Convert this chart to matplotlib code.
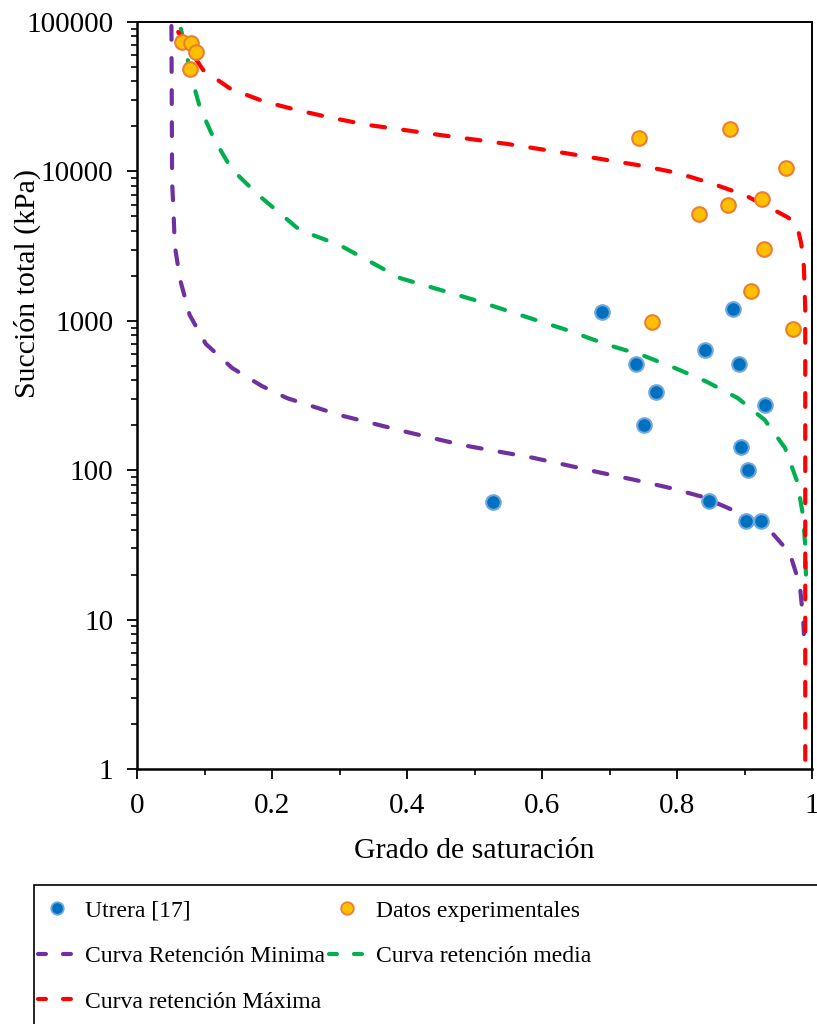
import numpy as np

# Plot and save fig without displaying it on X server
import matplotlib
matplotlib.use('Agg')
import matplotlib.pyplot as plot
from matplotlib.lines import Line2D
from matplotlib.patches import Rectangle
from matplotlib.ticker import FixedLocator, FuncFormatter, LogLocator, NullFormatter

# Utrera [17]
utrera_sr = [0.527, 0.689, 0.739, 0.769, 0.751, 0.841, 0.883, 0.892, 0.930, 0.895, 0.905, 0.847, 0.902, 0.924]
utrera_suc = [61, 1145, 514, 334, 201, 638, 1200, 514, 273, 143, 100, 62, 46, 46]

# Datos experimentales
exp_sr = [0.067, 0.080, 0.087, 0.079, 0.743, 0.879, 0.961, 0.926, 0.875, 0.832, 0.929, 0.909, 0.763, 0.972]
exp_suc = [73500, 72300, 63000, 48400, 16800, 19100, 10500, 6560, 5960, 5210, 3040, 1575, 977, 885]

# Curva retencion minima
min_sr = [0.051, 0.0515, 0.052, 0.054, 0.056, 0.064, 0.078, 0.102, 0.141, 0.185, 0.222, 0.30, 0.40,
          0.483, 0.587, 0.637, 0.688, 0.738, 0.79, 0.837, 0.888, 0.935, 0.967, 0.982, 0.987, 0.988]
min_suc = [94000, 30000, 8490, 5520, 3170, 1875, 1094, 700, 483, 366, 304, 234, 180,
           147, 121, 108, 96, 86, 76, 66.5, 52.8, 40.8, 27.9, 17, 10, 8]

# Curva retencion media
med_sr = [0.065, 0.072, 0.081, 0.093, 0.114, 0.14, 0.178, 0.241, 0.30, 0.39, 0.50, 0.60, 0.637,
          0.698, 0.748, 0.797, 0.844, 0.890, 0.930, 0.96, 0.978, 0.987, 0.99, 0.991]
med_suc = [90000, 65000, 42200, 27000, 16500, 10400, 7060, 4050, 3215, 1930, 1378, 981, 867,
           689, 590, 483, 391, 304, 217, 141, 84, 49, 31, 20]

# Curva retencion maxima
max_sr = [0.061, 0.0785, 0.098, 0.139, 0.188, 0.239, 0.289, 0.341, 0.45, 0.55, 0.637, 0.75, 0.801,
          0.851, 0.90, 0.948, 0.965, 0.978, 0.984, 0.988, 0.990, 0.990, 0.990, 0.990]
max_suc = [85700, 65000, 47700, 35600, 29400, 25600, 22800, 20500, 17500, 15240, 13200, 10870, 9750,
           8320, 6950, 5390, 4900, 4300, 3300, 2300, 1200, 100, 10, 1]

x_ticks = [0, 0.2, 0.4, 0.6, 0.8, 1.0]
x_tick_labels = ['0', '0.2', '0.4', '0.6', '0.8', '1']
y_ticks = [1, 10, 100, 1000, 10000, 100000]

PURPLE = '#7030A0'
GREEN = '#00B050'
RED = '#FF0000'

LINE_DASH = (0, (3.3, 4.4))
HANDLE_DASH = (0, (1.9, 4.1))


def plotCurves(ax):
    for sr, suc, col in [(min_sr, min_suc, PURPLE), (med_sr, med_suc, GREEN), (max_sr, max_suc, RED)]:
        ax.plot(sr, suc, color=col, lw=3, linestyle=LINE_DASH, dash_capstyle='round', zorder=2)

    ax.plot(utrera_sr, utrera_suc, linestyle='none', marker='o', ms=10.5,
            markerfacecolor='#0070C0', markeredgecolor='#6FA8DC', mew=1.5, zorder=4)
    ax.plot(exp_sr, exp_suc, linestyle='none', marker='o', ms=10.5,
            markerfacecolor='#FFC000', markeredgecolor='#ED7D31', mew=1.5, zorder=4)


def styleAxes(ax):
    ax.set_xlim(0, 1)
    ax.set_yscale('log')
    ax.set_ylim(1, 100000)

    ax.xaxis.set_major_locator(FixedLocator(x_ticks))
    ax.set_xticklabels(x_tick_labels)
    ax.xaxis.set_minor_locator(FixedLocator([0.1, 0.3, 0.5, 0.7, 0.9]))

    ax.yaxis.set_major_locator(FixedLocator(y_ticks))
    ax.yaxis.set_major_formatter(FuncFormatter(lambda v, p: '%d' % v))
    ax.yaxis.set_minor_locator(LogLocator(base=10, subs=np.arange(2, 10), numticks=20))
    ax.yaxis.set_minor_formatter(NullFormatter())

    ax.tick_params(axis='both', which='major', direction='out', length=7, width=1.3,
                   labelsize=21, color='black')
    ax.tick_params(axis='both', which='minor', direction='out', length=4, width=1.2, color='black')
    ax.tick_params(axis='y', which='major', pad=10)
    ax.tick_params(axis='x', which='major', pad=10)

    for side in ['left', 'bottom']:
        ax.spines[side].set_linewidth(1.8)
    for side in ['top', 'right']:
        ax.spines[side].set_linewidth(1.4)

    ax.set_xlabel('Grado de saturación', fontsize=21.5, labelpad=14)
    ax.set_ylabel('Succión total (kPa)', fontsize=21.5)
    ax.yaxis.set_label_coords(-0.142, 0.65)


def addLegend(fig):
    handles = [
        Line2D([], [], linestyle='none', marker='o', ms=9, markerfacecolor='#0070C0',
               markeredgecolor='#6FA8DC', mew=1.3),
        Line2D([], [], color=PURPLE, lw=3, linestyle=HANDLE_DASH, dash_capstyle='round'),
        Line2D([], [], color=RED, lw=3, linestyle=HANDLE_DASH, dash_capstyle='round'),
        Line2D([], [], linestyle='none', marker='o', ms=9, markerfacecolor='#FFC000',
               markeredgecolor='#ED7D31', mew=1.3),
        Line2D([], [], color=GREEN, lw=3, linestyle=HANDLE_DASH, dash_capstyle='round'),
    ]
    labels = ['Utrera [17]', 'Curva Retención Minima', 'Curva retención Máxima',
              'Datos experimentales', 'Curva retención media']

    fig.legend(handles, labels, ncol=2, loc='upper left', bbox_to_anchor=(38 / 817, 1 - 900 / 1024),
               frameon=False, fontsize=17, borderpad=0, borderaxespad=0, handlelength=1.57,
               handletextpad=0.42, columnspacing=0.15, labelspacing=1.02)

    # legend box runs past the figure edge
    fig.patches.append(Rectangle((34 / 817, -0.05), 1.0, (1 - 885 / 1024) + 0.05,
                                 transform=fig.transFigure, fill=False, lw=1.2,
                                 edgecolor='black', zorder=0))


def main():
    plot.rcParams['font.family'] = ['Liberation Serif', 'DejaVu Serif']

    fig = plot.figure(figsize=(8.17, 10.24), dpi=100)
    ax = fig.add_axes([137 / 817, 1 - 769 / 1024, 675 / 817, 747 / 1024])

    plotCurves(ax)
    styleAxes(ax)
    addLegend(fig)

    plot.savefig('out.png', dpi=100)


if __name__ == "__main__":
    main()
